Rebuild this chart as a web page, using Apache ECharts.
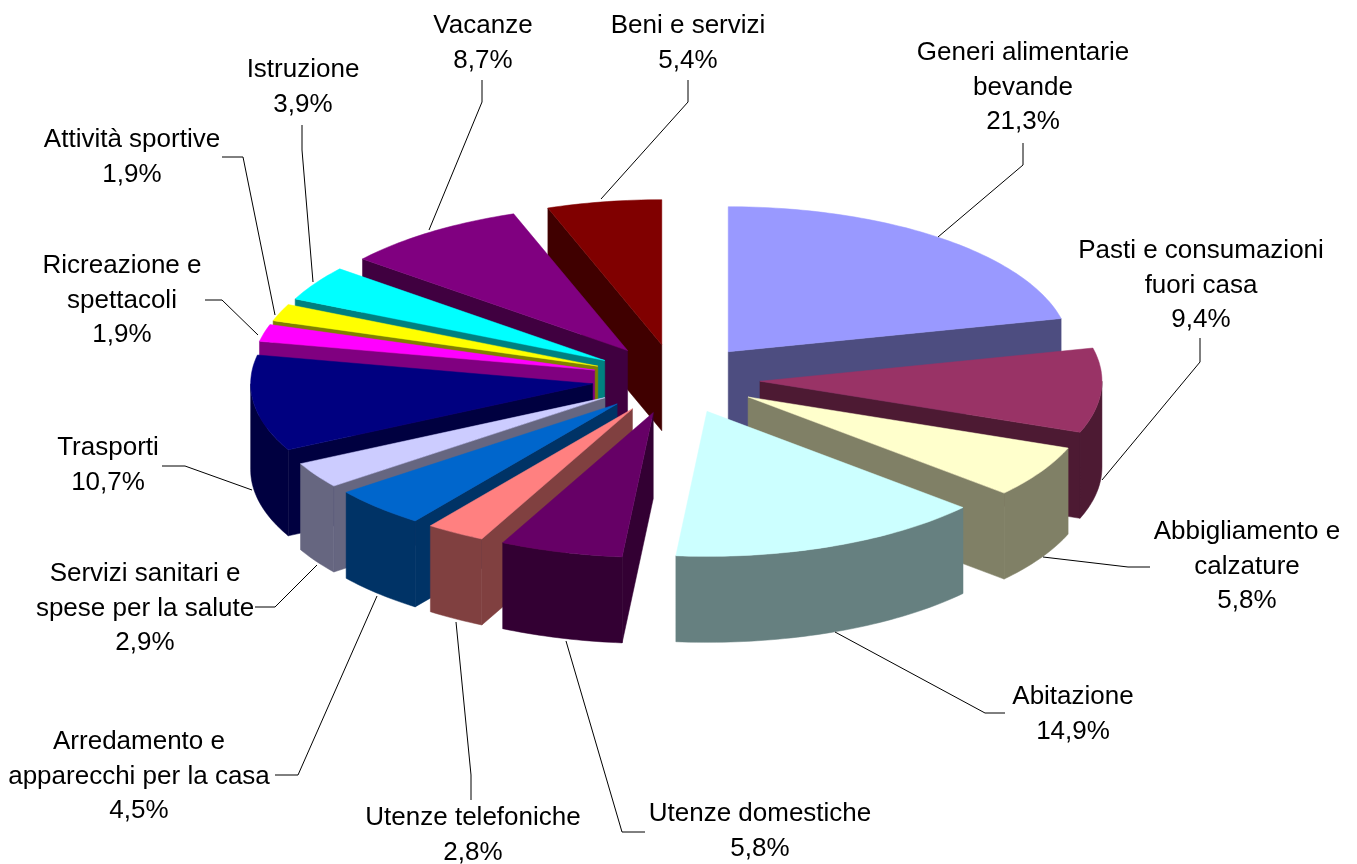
<!DOCTYPE html>
<html>
<head>
<meta charset="utf-8">
<title>Spesa</title>
<script src="https://cdn.jsdelivr.net/npm/echarts@6/dist/echarts.min.js"></script>
<style>
  html, body { margin: 0; padding: 0; background: #fff; }
  #main { width: 1357px; height: 864px; }
</style>
</head>
<body>
<div id="main"></div>
<script>
let categories = [
  "Generi alimentarie\nbevande", "Pasti e consumazioni\nfuori casa", "Abbigliamento e\ncalzature",
  "Abitazione", "Utenze domestiche", "Utenze telefoniche",
  "Arredamento e\napparecchi per la casa", "Servizi sanitari e\nspese per la salute", "Trasporti",
  "Ricreazione e\nspettacoli", "Attività sportive", "Istruzione", "Vacanze", "Beni e servizi"
];
let values = [21.3, 9.4, 5.8, 14.9, 5.8, 2.8, 4.5, 2.9, 10.7, 1.9, 1.9, 3.9, 8.7, 5.4];

let topColors = ["#9999FF", "#993366", "#FFFFCC", "#CCFFFF", "#660066", "#FF8080", "#0066CC",
  "#CCCCFF", "#000080", "#FF00FF", "#FFFF00", "#00FFFF", "#800080", "#800000"];
let wallColors = ["#4D4D80", "#4D1A33", "#808066", "#668080", "#330033", "#804040", "#003366",
  "#666680", "#000040", "#800080", "#808000", "#008080", "#400040", "#400000"];

// label centre (first line) and leader line, in page pixels
let labelAt = [[1023, 53], [1201, 251], [1247, 532], [1073, 697], [760, 814], [473, 818], [139, 742],
  [145, 574], [108, 448], [122, 266], [132, 140], [303, 70], [483, 26], [688, 26]];
let leaders = [
  [[938, 237], [1023, 165], [1023, 143]],
  [[1102, 480], [1200, 362], [1200, 338]],
  [[1043, 557], [1128, 567], [1150, 567]],
  [[835, 632], [985, 713], [1005, 713]],
  [[566, 641], [622, 832], [645, 832]],
  [[456, 622], [471, 775], [471, 800]],
  [[377, 596], [298, 775], [275, 775]],
  [[317, 565], [275, 607], [255, 607]],
  [[252, 490], [185, 466], [162, 466]],
  [[258, 335], [222, 300], [205, 300]],
  [[275, 315], [243, 157], [222, 157]],
  [[313, 282], [302, 150], [302, 125]],
  [[429, 230], [482, 102], [482, 80]],
  [[601, 199], [688, 102], [688, 80]]
];

let explodeX = 0.246;
let explodeY = 0.24;
let depth = 86;
let lineStep = 34.5;
let total = values.reduce((a, b) => a + b, 0);

// start and end angle of every slice, clockwise from the top
let angles = [];
let run = 0;
values.forEach(v => {
  angles.push([run / total * Math.PI * 2, (run + v) / total * Math.PI * 2]);
  run += v;
});

// slices further back are painted first
let order = values.map((v, i) => i).sort((a, b) => {
  let ma = (angles[a][0] + angles[a][1]) / 2;
  let mb = (angles[b][0] + angles[b][1]) / 2;
  return Math.cos(mb) - Math.cos(ma);
});

function renderSlice(params, api) {
  let i = api.value(0);
  let a0 = angles[i][0];
  let a1 = angles[i][1];
  let mid = (a0 + a1) / 2;
  let ox = explodeX * Math.sin(mid);
  let oy = explodeY * Math.cos(mid);
  let rank = order.indexOf(i) * 10;

  let rim = a => api.coord([ox + Math.sin(a), oy + Math.cos(a)]);
  let apex = api.coord([ox, oy]);
  let down = p => [p[0], p[1] + depth];
  let arc = (from, to) => {
    let pts = [];
    let n = Math.max(2, Math.ceil((to - from) / 0.02));
    for (let k = 0; k <= n; k++) pts.push(rim(from + (to - from) * k / n));
    return pts;
  };
  let wall = pts => ({
    type: "polygon",
    z2: rank,
    shape: { points: pts.concat(pts.map(down).reverse()) },
    style: { fill: wallColors[i], stroke: wallColors[i], lineWidth: 0.5 }
  });

  let children = [];
  if (Math.sin(a0) < 0) children.push(wall([apex, rim(a0)]));
  if (Math.sin(a1) > 0) children.push(wall([apex, rim(a1)]));
  let f0 = Math.max(a0, Math.PI / 2);
  let f1 = Math.min(a1, Math.PI * 1.5);
  if (f1 > f0) children.push(wall(arc(f0, f1)));
  children.push({
    type: "polygon",
    z2: rank + 1,
    shape: { points: [apex].concat(arc(a0, a1)) },
    style: { fill: topColors[i], stroke: topColors[i], lineWidth: 0.5 }
  });

  children.push({
    type: "polyline",
    z2: 500,
    shape: { points: leaders[i] },
    style: { fill: null, stroke: "#000", lineWidth: 1 }
  });
  let lines = categories[i].split("\n").concat(String(values[i]).replace(".", ",") + "%");
  lines.forEach((t, k) => {
    children.push({
      type: "text",
      z2: 510,
      style: {
        text: t,
        x: labelAt[i][0],
        y: labelAt[i][1] + k * lineStep,
        font: "26px 'Liberation Sans', Arial, sans-serif",
        fill: "#000",
        textAlign: "center",
        textVerticalAlign: "middle"
      }
    });
  });
  return { type: "group", children: children };
}

let option = {
  animation: false,
  backgroundColor: "#fff",
  // unit circle of the pie is mapped to the flattened ellipse by these hidden axes
  grid: { left: -8, top: 89, width: 1368, height: 580, outerBoundsMode: "none" },
  xAxis: { type: "value", min: -2, max: 2, show: false },
  yAxis: { type: "value", min: -2, max: 2, show: false },
  series: [
    {
      type: "custom",
      coordinateSystem: "cartesian2d",
      clip: false,
      silent: true,
      renderItem: renderSlice,
      encode: { x: 0, y: 1 },
      data: values.map((v, i) => [i, v])
    }
  ]
};

let chart = echarts.init(document.getElementById("main"));
chart.setOption(option);
</script>
</body>
</html>
